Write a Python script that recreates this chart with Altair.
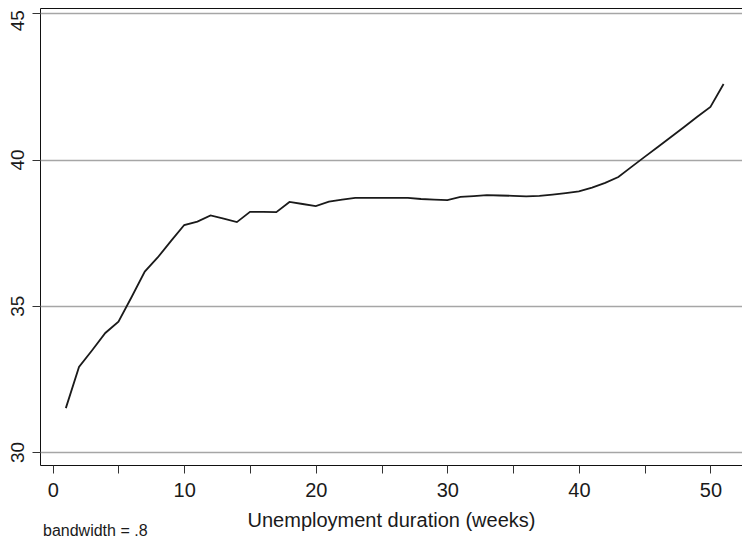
import altair as alt
import pandas as pd

weeks = list(range(1, 52))
fitted = [31.50, 32.91, 33.48, 34.07, 34.46, 35.30, 36.17, 36.66, 37.22, 37.76,
          37.88, 38.09, 37.98, 37.86, 38.21, 38.21, 38.20, 38.55, 38.48, 38.41,
          38.56, 38.63, 38.69, 38.69, 38.69, 38.69, 38.69, 38.65, 38.63, 38.61,
          38.72, 38.75, 38.78, 38.77, 38.76, 38.74, 38.76, 38.80, 38.85, 38.91,
          39.04, 39.20, 39.40, 39.75, 40.09, 40.43, 40.77, 41.11, 41.46, 41.80,
          42.58]

x_ticks = [0, 5, 10, 15, 20, 25, 30, 35, 40, 45, 50]
y_ticks = [30, 35, 40, 45]
x_title = "Unemployment duration (weeks)"
note = "bandwidth = .8"

df = pd.DataFrame({"weeks": weeks, "fit": fitted})
FONT = "Liberation Sans"

line = alt.Chart(df).mark_line(color="#1a1a1a", strokeWidth=1.8).encode(
    x=alt.X("weeks:Q",
            scale=alt.Scale(domain=[-0.965, 52.4], nice=False, zero=False),
            axis=alt.Axis(values=x_ticks, grid=False, domain=False,
                          tickSize=8, tickColor="#333333", tickWidth=1,
                          labelExpr="datum.value % 10 == 0 ? datum.label : ''",
                          labelFontSize=20, labelFont=FONT, labelColor="#1a1a1a",
                          labelPadding=7, labelBaseline="top",
                          title=x_title, titleFont=FONT, titleFontSize=20,
                          titleFontWeight="normal", titleColor="#1a1a1a",
                          titleY=61, titleBaseline="alphabetic")),
    y=alt.Y("fit:Q",
            scale=alt.Scale(domain=[29.556, 45.181], nice=False, zero=False),
            axis=alt.Axis(values=y_ticks, grid=True, gridColor="#a6a6a6",
                          gridWidth=1.4, domain=False,
                          tickSize=8, tickColor="#333333", tickWidth=1,
                          labelAngle=-90, labelAlign="center",
                          labelBaseline="alphabetic", labelPadding=9,
                          labelOffset=alt.condition("datum.value == 45",
                                                    alt.value(7), alt.value(0)),
                          labelFontSize=19, labelFont=FONT, labelColor="#1a1a1a",
                          title=None)),
)

note_df = pd.DataFrame({"t": [note]})
note_text = alt.Chart(note_df).mark_text(
    align="left", baseline="alphabetic", fontSize=16, font=FONT, color="#1a1a1a"
).encode(x=alt.value(3), y=alt.value(528), text="t:N")

chart = alt.layer(line, note_text).properties(
    width=702, height=457,
    autosize=alt.AutoSizeParams(type="none"),
    padding={"left": 32, "top": 0, "right": 0, "bottom": 74},
    background="white",
).configure_view(stroke="#111111", strokeWidth=1)

chart.save("out.html", embed_options={"renderer": "svg", "actions": False})
